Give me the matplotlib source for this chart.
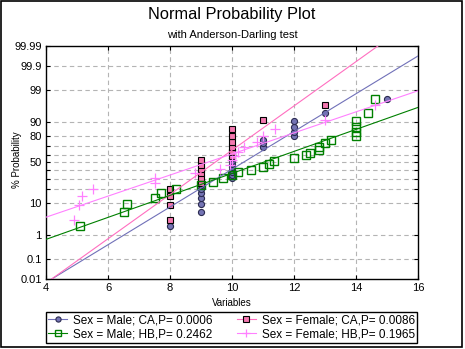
import numpy as np
import matplotlib
matplotlib.use("Agg")
import matplotlib.pyplot as plt
from matplotlib.legend_handler import HandlerLine2D
from matplotlib.patches import Rectangle
from statistics import NormalDist

plt.rcParams['font.family'] = ['Liberation Sans', 'DejaVu Sans']

# ---- data ----
male_ca = [8, 9, 9, 9, 9, 9, 9, 9, 10, 10, 10, 10, 10, 10, 10, 10, 10, 10, 10,
           11, 11, 11, 12, 12, 12, 12, 13, 15]
female_ca = [8, 8, 8, 8, 9, 9, 9, 9, 9, 9, 10, 10, 10, 10, 10, 10, 11, 13]
male_hb = [5.1, 6.5, 6.6, 7.5, 7.7, 8.2, 9.0, 9.4, 9.7, 10.0, 10.2, 10.6, 11.0, 11.2,
           11.35, 12.0, 12.4, 12.5, 12.8, 12.8, 13.0, 13.2, 14.0, 14.0, 14.0, 14.0, 14.4, 14.6]
female_hb = [4.9, 5.05, 5.15, 5.5, 7.5, 7.5, 8.8, 9.6, 9.95, 10.0, 10.1, 10.2, 10.4,
             10.8, 11.0, 11.4, 13.0, 14.6]

labels = ["Sex = Male; CA,P= 0.0006", "Sex = Female; CA,P= 0.0086",
          "Sex = Male; HB,P= 0.2462", "Sex = Female; HB,P= 0.1965"]

tick_pcts = [0.01, 0.1, 1, 10, 50, 80, 90, 99, 99.9, 99.99]
grid_pcts = [0.1, 1, 10, 20, 30, 40, 50, 60, 70, 80, 90, 99, 99.9]
x_ticks = [4, 6, 8, 10, 12, 14, 16]

nd = NormalDist()
def z_of(p):
    return nd.inv_cdf(p / 100.0)

def normal_scores(vals):
    x = np.sort(np.asarray(vals, dtype=float))
    n = len(x)
    z = np.array([nd.inv_cdf((i - 0.375) / (n + 0.25)) for i in range(1, n + 1)])
    return x, z

W, H = 465, 349
fig = plt.figure(figsize=(W / 100, H / 100), dpi=100)
ax = fig.add_axes([46 / W, 1 - 279 / H, (418 - 46) / W, (279 - 46) / H])

zlo, zhi = z_of(0.01), z_of(99.99)
ax.set_xlim(4, 16)
ax.set_ylim(zlo, zhi)

# grid
for p in grid_pcts:
    ax.axhline(z_of(p), color='#b4b4b4', lw=0.8, ls=(0, (4, 3)), zorder=1)
for xv in x_ticks[1:-1]:
    ax.axvline(xv, color='#b4b4b4', lw=0.8, ls=(0, (4, 3)), zorder=1)

styles = [
    dict(data=male_ca, marker='o', ms=4.4, mfc='#7474b4', mec='#2a2a50', mew=0.8,
         lc='#7070b8'),
    dict(data=female_ca, marker='s', ms=4.8, mfc='#f478b0', mec='#000000', mew=0.8,
         lc='#ff6ec0'),
    dict(data=male_hb, marker='s', ms=5.4, mfc='none', mec='#008000', mew=1.0,
         lc='#008000'),
    dict(data=female_hb, marker='+', ms=6.5, mfc='#ff80ff', mec='#ff80ff', mew=0.9,
         lc='#ff80ff'),
]

handles = []
xs_line = np.array([4.0, 16.0])
for st, lab in zip(styles, labels):
    x, z = normal_scores(st['data'])
    ax.plot(x, z, ls='none', marker=st['marker'], ms=st['ms'], mfc=st['mfc'],
            mec=st['mec'], mew=st['mew'], zorder=3)
    b, a = np.polyfit(x, z, 1)
    ax.plot(xs_line, a + b * xs_line, color=st['lc'], lw=0.8, zorder=4)
    h, = ax.plot([], [], color=st['lc'], lw=0.8, marker=st['marker'], ms=st['ms'] * 0.85,
                 mfc=st['mfc'], mec=st['mec'], mew=st['mew'], label=lab)
    handles.append(h)

# ticks
ax.set_yticks([z_of(p) for p in tick_pcts])
ax.set_yticklabels([("%g" % p) for p in tick_pcts])
ax.set_yticks([z_of(p) for p in grid_pcts if p not in tick_pcts], minor=True)
ax.set_xticks(x_ticks)
ax.set_xticklabels([str(v) for v in x_ticks])
ax.tick_params(axis='both', which='both', direction='in', length=3, width=0.8,
               top=True, right=True, labelsize=8, colors='black', pad=3)
for s in ax.spines.values():
    s.set_linewidth(1.0)
    s.set_color('black')

fig.text(232 / W, 1 - 303 / H, "Variables", ha='center', va='center', fontsize=7)
fig.text(17 / W, 1 - 160 / H, "% Probability", ha='center', va='center',
         rotation=90, fontsize=7)

fig.text(232 / W, 1 - 15 / H, "Normal Probability Plot", ha='center', va='center',
         fontsize=11.8)
fig.text(232 / W, 1 - 35 / H, "with Anderson-Darling test", ha='center', va='center',
         fontsize=8)


class EndMarkerHandler(HandlerLine2D):
    def get_xdata(self, legend, xdescent, ydescent, width, height, fontsize):
        xdata = np.array([-xdescent, -xdescent + width])
        return xdata, np.array([-xdescent + 0.85 * width])


order = [0, 2, 1, 3]
leg = fig.legend([handles[i] for i in order], [labels[i] for i in order],
                 loc='center', ncol=2, mode='expand',
                 bbox_to_anchor=(46 / W, 1 - 342 / H, (417 - 46) / W, (342 - 313) / H),
                 bbox_transform=fig.transFigure, borderaxespad=0, fontsize=8.5,
                 frameon=True, fancybox=False, framealpha=1, edgecolor='black',
                 handlelength=1.6, handletextpad=0.5, labelspacing=0.15,
                 borderpad=0.2, columnspacing=1.0, numpoints=1,
                 handler_map={matplotlib.lines.Line2D: EndMarkerHandler()})
leg.get_frame().set_linewidth(1.0)

fig.patches.append(Rectangle((0.5 / W, 1 - 347 / H), 461.5 / W, 346.5 / H,
                             transform=fig.transFigure, fill=False,
                             edgecolor='black', lw=1.2))

fig.savefig("out.png", dpi=100)
